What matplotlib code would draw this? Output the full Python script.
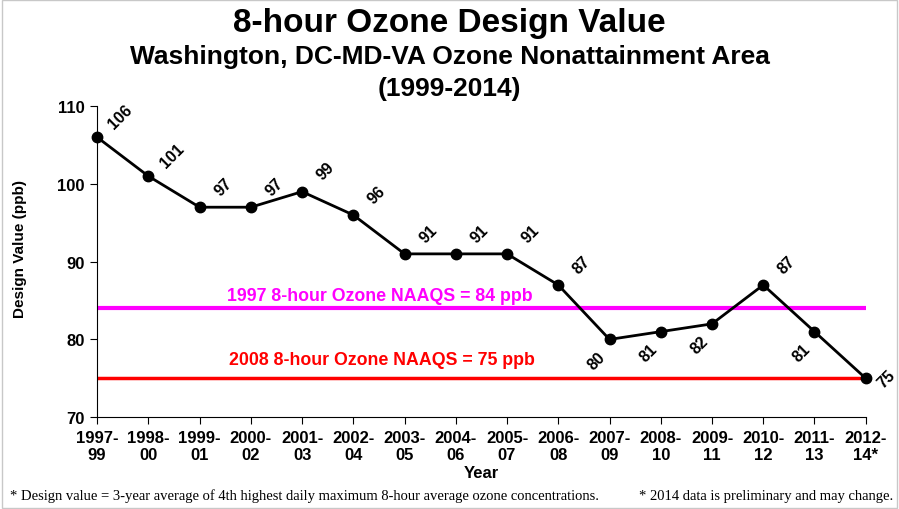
import matplotlib.pyplot as plt
from matplotlib.patches import Rectangle

# Data
periods = ['1997-\n99', '1998-\n00', '1999-\n01', '2000-\n02', '2001-\n03', '2002-\n04',
           '2003-\n05', '2004-\n06', '2005-\n07', '2006-\n08', '2007-\n09', '2008-\n10',
           '2009-\n11', '2010-\n12', '2011-\n13', '2012-\n14*']
design_values = [106, 101, 97, 97, 99, 96, 91, 91, 91, 87, 80, 81, 82, 87, 81, 75]
naaqs_1997 = 84
naaqs_2008 = 75

plt.rcParams['font.family'] = ['Liberation Sans', 'DejaVu Sans']

fig = plt.figure(figsize=(8.99, 5.10), dpi=100)
ax = fig.add_axes([0.108, 0.180, 0.855, 0.610])

x = list(range(len(design_values)))

# Standard lines
ax.plot([x[0], x[-1]], [naaqs_1997] * 2, color='#ff00ff', lw=3, zorder=1)
ax.plot([x[0], x[-1]], [naaqs_2008] * 2, color='#ff0000', lw=2.5, zorder=1)
ax.text(5.52, naaqs_1997 + 0.6, '1997 8-hour Ozone NAAQS = 84 ppb', color='#ff00ff',
        fontsize=12.75, fontweight='bold', ha='center', va='bottom')
ax.text(5.55, naaqs_2008 + 1.3, '2008 8-hour Ozone NAAQS = 75 ppb', color='#ff0000',
        fontsize=12.75, fontweight='bold', ha='center', va='bottom')

# Design value series
ax.plot(x, design_values, color='black', lw=2, marker='o', markersize=7.5,
        clip_on=False, zorder=3)

below = {10, 11, 12, 14}
for i, v in enumerate(design_values):
    if i == len(design_values) - 1:
        off = (15, 0)
    elif i in below:
        off = (-9, -15)
    else:
        off = (17, 15)
    ax.annotate(str(v), (i, v), xytext=off, textcoords='offset points',
                rotation=45, fontsize=11.5, fontweight='bold',
                ha='center', va='center')

ax.set_xlim(0, len(design_values) - 1)
ax.set_ylim(70, 110)
ax.set_yticks([70, 80, 90, 100, 110])
ax.set_xticks(x)
ax.set_xticklabels(periods)
for lbl in ax.get_xticklabels() + ax.get_yticklabels():
    lbl.set_fontweight('bold')
    lbl.set_fontsize(12)
ax.tick_params(axis='both', direction='out', length=5, width=0.8, pad=4)

ax.spines['top'].set_visible(False)
ax.spines['right'].set_visible(False)

ax.set_xlabel('Year', fontsize=12, fontweight='bold', labelpad=2)
ax.set_ylabel('Design Value (ppb)', fontsize=11, fontweight='bold', labelpad=22)
ax.yaxis.label.set_y(0.545)

# Titles
fig.text(0.5, 0.953, '8-hour Ozone Design Value', ha='center', va='center',
         fontsize=24, fontweight='bold')
fig.text(0.5, 0.889, 'Washington, DC-MD-VA Ozone Nonattainment Area', ha='center',
         va='center', fontsize=19, fontweight='bold')
fig.text(0.5, 0.826, '(1999-2014)', ha='center', va='center', fontsize=19,
         fontweight='bold')

# Footnotes
fig.text(0.011, 0.027, '* Design value = 3-year average of 4th highest daily maximum '
         '8-hour average ozone concentrations.', fontsize=10.5,
         family='Liberation Serif', va='center')
fig.text(0.994, 0.027, '* 2014 data is preliminary and may change.', fontsize=10.5,
         family='Liberation Serif', va='center', ha='right')

# Slide border
fig.patches.append(Rectangle((0.002, 0.002), 0.996, 0.996, transform=fig.transFigure,
                             fill=False, edgecolor='#c8c8c8', lw=1))

fig.savefig('out.png', dpi=100)
